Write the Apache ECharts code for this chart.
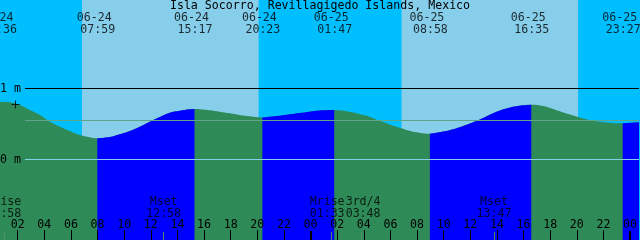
<!DOCTYPE html>
<html><head><meta charset="utf-8">
<script src="https://cdn.jsdelivr.net/npm/echarts@6/dist/echarts.min.js"></script>
<style>html,body{margin:0;padding:0;background:#00BFFF}#c{width:640px;height:240px}</style>
</head><body><div id="c"></div>
<script>
// ---- data (hours counted from 06-24 00:00) ----
const tideHours = [0.6, 1.425, 2.175, 2.925, 3.675, 4.425, 5.175, 5.925, 6.675, 7.425, 7.983, 8.925, 9.675, 10.425, 11.175, 11.925, 12.675, 13.425, 14.175, 14.925, 15.283, 16.425, 17.175, 17.925, 18.675, 19.425, 20.383, 20.925, 21.675, 22.425, 23.175, 23.925, 24.675, 25.783, 26.925, 27.675, 28.425, 29.175, 29.925, 30.675, 31.425, 32.175, 32.967, 33.675, 34.425, 35.175, 35.925, 36.675, 37.425, 38.175, 38.925, 39.675, 40.583, 41.175, 41.925, 42.675, 43.425, 44.175, 44.925, 45.675, 46.425, 47.45, 48.675];
const tideMeters = [0.815, 0.806, 0.768, 0.697, 0.627, 0.532, 0.462, 0.401, 0.345, 0.313, 0.299, 0.317, 0.355, 0.401, 0.462, 0.532, 0.599, 0.659, 0.687, 0.707, 0.711, 0.693, 0.673, 0.651, 0.627, 0.608, 0.592, 0.603, 0.617, 0.637, 0.655, 0.673, 0.690, 0.697, 0.673, 0.641, 0.603, 0.546, 0.496, 0.448, 0.406, 0.377, 0.363, 0.383, 0.411, 0.454, 0.504, 0.559, 0.627, 0.687, 0.730, 0.758, 0.772, 0.763, 0.730, 0.683, 0.637, 0.594, 0.556, 0.532, 0.518, 0.510, 0.524];
const extremeDates = ['06-24', '06-24', '06-24', '06-24', '06-25', '06-25', '06-25', '06-25'];
const extremeClock = ['00:36', '07:59', '15:17', '20:23', '01:47', '08:58', '16:35', '23:27'];
const sunrises = ['06-24 06:50', '06-25 06:50'];
const sunsets = ['06-24 20:06', '06-25 20:06'];
const moonNames = ['Mrise', 'Mset', 'Mrise', '3rd/4', 'Mset'];
const moonStamps = ['06-24 00:58', '06-24 12:58', '06-25 01:33', '06-25 03:48', '06-25 13:47'];
const hourTicks = [2, 4, 6, 8, 10, 12, 14, 16, 18, 20, 22, 24, 26, 28, 30, 32, 34, 36, 38, 40, 42, 44, 46, 48];
const levelValues = [1, 0];
const levelLabels = ['1 m', '0 m'];
const meanLevel = 0.549;
const nowMark = [1.84, 0.775];
const title = 'Isla Socorro, Revillagigedo Islands, Mexico';

// ---- layout ----
const W = 640, H = 240;
const XMIN = 0.675, XMAX = 48.675;
const PX0 = 159.5, PPM = 71;
const YMIN = (PX0 - H) / PPM, YMAX = PX0 / PPM;
const yAt = px => (PX0 - px) / PPM;
const LINE_START = XMIN + 25 * (XMAX - XMIN) / W;
const moonShift = [0, 0, -4, 2, 0];
const FONT = 'DejaVu Sans Mono';
const FS = 11.6;
const C = {day: '#87CEEB', night: '#00BFFF', flood: '#0000FF', ebb: '#2E8B57', mean: '#5fa58a', zero: '#87CEEB', moonTick: '#4f8f65'};

function toHours(s) {
  const [d, c] = s.split(' ');
  const day = parseInt(d.split('-')[1], 10) - 24;
  const [h, m] = c.split(':').map(Number);
  return day * 24 + h + m / 60;
}
const pad = v => String(v).padStart(2, '0');

const pts = tideHours.map((t, i) => [t, tideMeters[i]]);
const extT = extremeDates.map((d, i) => toHours(d + ' ' + extremeClock[i]));
const extIdx = extT.map(t => pts.findIndex(p => Math.abs(p[0] - t) < 0.01));
const segs = [];
for (let k = 0; k < extIdx.length; k++) {
  const a = extIdx[k], b = k + 1 < extIdx.length ? extIdx[k + 1] : pts.length - 1;
  if (b > a && pts[b][1] > pts[a][1]) segs.push(pts.slice(a, b + 1));
}

const areaBase = {
  type: 'line', smooth: 0.4, symbol: 'none', showSymbol: false,
  lineStyle: {width: 0, opacity: 0}, silent: true
};

const series = [];
series.push(Object.assign({}, areaBase, {
  data: pts, z: 2,
  areaStyle: {color: C.ebb, opacity: 1, origin: 'start'},
  markArea: {
    silent: true,
    itemStyle: {color: C.day},
    data: sunrises.map((s, i) => [{xAxis: toHours(s)}, {xAxis: toHours(sunsets[i])}])
  },
  markLine: {
    silent: true, symbol: ['none', 'none'], animation: false,
    label: {position: 'start', distance: 4, fontFamily: FONT, fontSize: FS, color: '#000'},
    data: [
      [{coord: [LINE_START, levelValues[0]], label: {formatter: levelLabels[0]}, lineStyle: {color: '#000', width: 1, type: 'solid'}}, {coord: [XMAX, levelValues[0]]}],
      [{coord: [LINE_START, levelValues[1]], label: {formatter: levelLabels[1]}, lineStyle: {color: C.zero, width: 1, type: 'solid'}}, {coord: [XMAX, levelValues[1]]}],
      [{coord: [LINE_START, meanLevel], label: {show: false}, lineStyle: {color: C.mean, width: 1, type: 'solid'}}, {coord: [XMAX, meanLevel]}]
    ]
  }
}));
segs.forEach(seg => series.push(Object.assign({}, areaBase, {
  data: seg, z: 3,
  areaStyle: {color: C.flood, opacity: 1, origin: 'start'}
})));
// tide extreme labels
series.push({
  type: 'scatter', symbolSize: 0, clip: false, silent: true, z: 10,
  data: extT.map((t, i) => ({value: [t, yAt(23.5)], d: extremeDates[i], c: extremeClock[i]})),
  label: {
    show: true, position: 'inside', align: 'center', verticalAlign: 'middle', offset: [0.5, 0],
    fontFamily: FONT, fontSize: FS, lineHeight: 12, color: '#000',
    formatter: p => p.data.d + ' \n' + p.data.c
  }
});
// moon labels
series.push({
  type: 'scatter', symbolSize: 0, clip: false, silent: true, z: 10,
  data: moonStamps.map((s, i) => ({
    value: [toHours(s), yAt(207.5)],
    label: {offset: [moonShift[i], 0]},
    n: moonNames[i], c: s.split(' ')[1]
  })),
  label: {
    show: true, position: 'inside', align: 'center', verticalAlign: 'middle',
    fontFamily: FONT, fontSize: FS, lineHeight: 12, color: '#000',
    formatter: p => p.data.n + '\n' + p.data.c
  }
});
// plus mark
series.push({
  type: 'scatter', silent: true, z: 9, clip: false,
  symbol: 'path://M0,3.5H8V4.5H0Z M3.5,0H4.5V8H3.5Z', symbolSize: 8,
  itemStyle: {color: '#000'},
  data: [nowMark]
});

const axisBase = {
  type: 'value', min: XMIN, max: XMAX, position: 'bottom', offset: 0, z: 20,
  axisLine: {show: false, onZero: false}, splitLine: {show: false}
};
const option = {
  animation: false,
  backgroundColor: C.night,
  title: {
    text: title, left: 'center', top: 0, padding: 0, z: 20,
    textStyle: {fontFamily: FONT, fontSize: FS, fontWeight: 'normal', color: '#000', lineHeight: 12}
  },
  grid: {left: 0, right: 0, top: 0, bottom: 0},
  xAxis: [
    Object.assign({}, axisBase, {
      axisTick: {show: true, inside: true, length: 10, customValues: hourTicks.filter(v => v % 24 !== 0), lineStyle: {color: '#000', width: 1}},
      axisLabel: {show: true, inside: true, margin: 9, customValues: hourTicks, formatter: v => pad(Math.round(v) % 24),
        fontFamily: FONT, fontSize: FS, lineHeight: 12, color: '#000'}
    }),
    Object.assign({}, axisBase, {
      axisTick: {show: true, inside: true, length: 9, customValues: hourTicks.filter(v => v % 24 === 0), lineStyle: {color: '#000', width: 2}},
      axisLabel: {show: false}
    }),
    Object.assign({}, axisBase, {
      axisTick: {show: true, inside: true, length: 8, customValues: moonStamps.map(toHours), lineStyle: {color: C.moonTick, width: 1}},
      axisLabel: {show: false}
    })
  ],
  yAxis: {type: 'value', min: YMIN, max: YMAX, show: false},
  series: series
};
const chart = echarts.init(document.getElementById('c'), null, {renderer: 'canvas'});
chart.setOption(option);
</script></body></html>
